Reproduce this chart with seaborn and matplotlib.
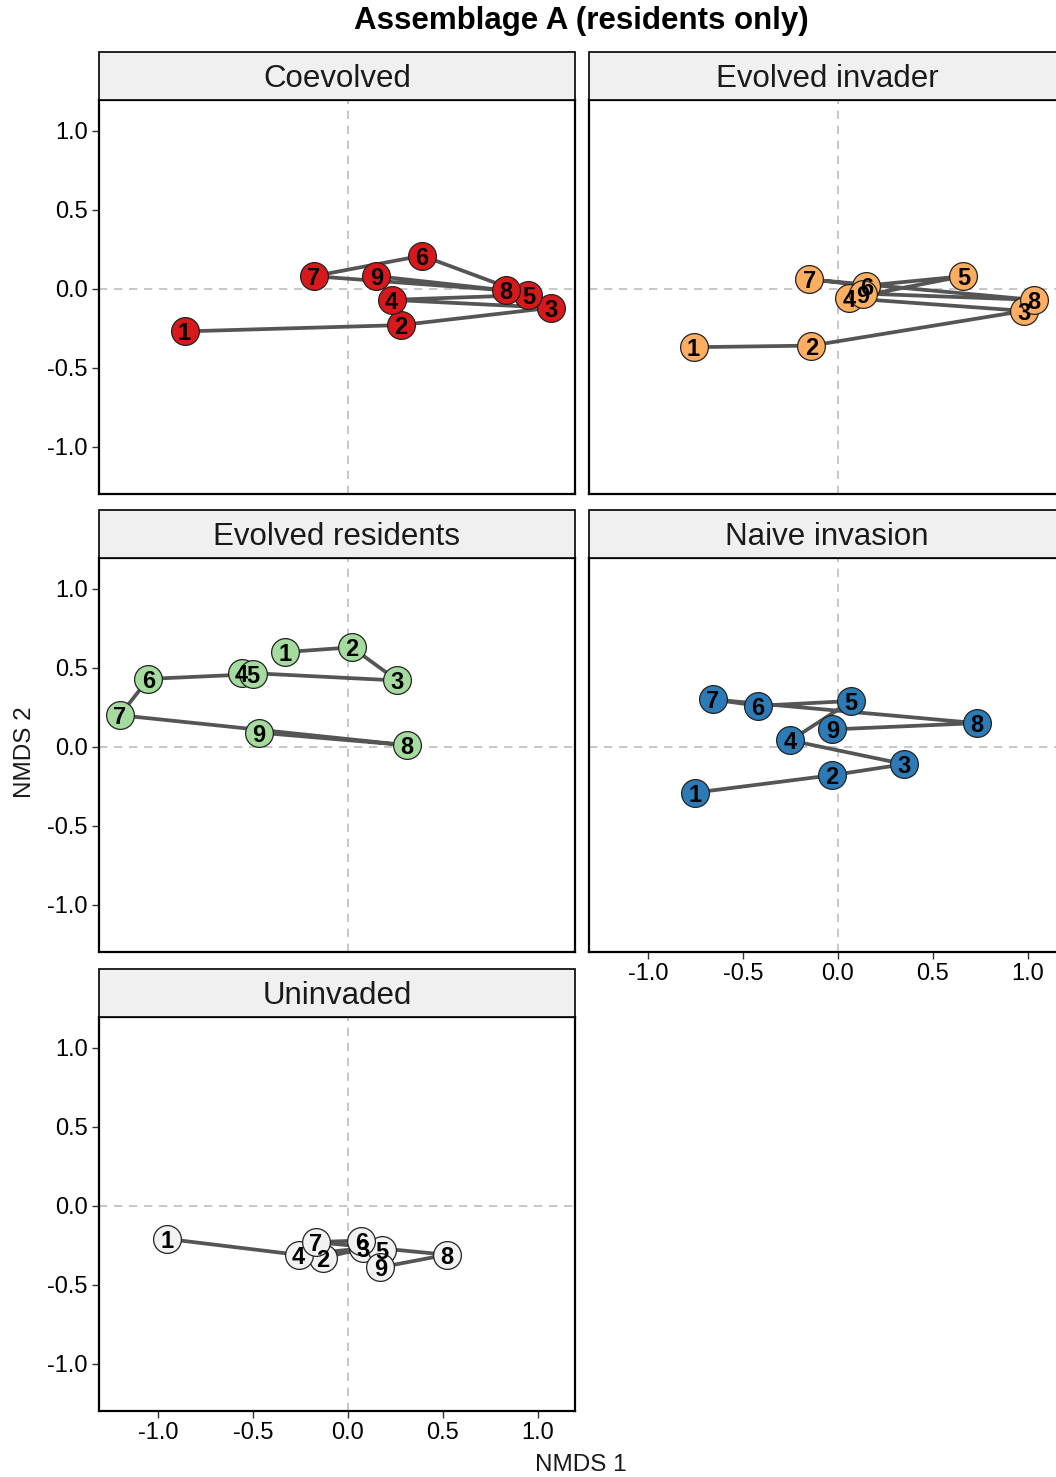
import numpy as np
import pandas as pd
import matplotlib
matplotlib.use("Agg")
import matplotlib.pyplot as plt
from matplotlib.patches import Rectangle
import seaborn as sns

# Sampling order of the communities (labels drawn inside each point)
samples = [1, 2, 3, 4, 5, 6, 7, 8, 9]

panels = ["Coevolved", "Evolved invader", "Evolved residents",
          "Naive invasion", "Uninvaded"]

# NMDS scores per treatment, in sampling order
coevolved_x = [-0.86, 0.28, 1.07, 0.23, 0.95, 0.39, -0.18, 0.83, 0.15]
coevolved_y = [-0.27, -0.23, -0.12, -0.07, -0.04, 0.21, 0.08, -0.01, 0.08]

invader_x = [-0.76, -0.14, 0.98, 0.06, 0.66, 0.15, -0.15, 1.03, 0.13]
invader_y = [-0.37, -0.36, -0.14, -0.06, 0.08, 0.02, 0.06, -0.07, -0.03]

residents_x = [-0.33, 0.02, 0.26, -0.56, -0.50, -1.05, -1.20, 0.31, -0.47]
residents_y = [0.60, 0.63, 0.42, 0.47, 0.46, 0.43, 0.20, 0.01, 0.09]

naive_x = [-0.75, -0.03, 0.35, -0.25, 0.07, -0.42, -0.66, 0.73, -0.03]
naive_y = [-0.29, -0.18, -0.11, 0.04, 0.29, 0.26, 0.30, 0.15, 0.11]

uninvaded_x = [-0.95, -0.13, 0.08, -0.26, 0.18, 0.07, -0.17, 0.52, 0.17]
uninvaded_y = [-0.21, -0.33, -0.27, -0.31, -0.28, -0.22, -0.23, -0.31, -0.39]

panel_colors = ["#D7191C", "#FDAE61", "#A6DBA0", "#2C7BB6", "#F2F2F2"]

xs = [coevolved_x, invader_x, residents_x, naive_x, uninvaded_x]
ys = [coevolved_y, invader_y, residents_y, naive_y, uninvaded_y]

df = pd.concat([
    pd.DataFrame({"treatment": p, "sample": samples, "NMDS1": x, "NMDS2": y})
    for p, x, y in zip(panels, xs, ys)
], ignore_index=True)

sns.set_theme(style="white")
plt.rcParams["font.family"] = ["Liberation Sans", "DejaVu Sans"]
plt.rcParams["axes.unicode_minus"] = False

g = sns.FacetGrid(df, col="treatment", col_order=panels, col_wrap=2,
                  sharex=True, sharey=True, height=4, aspect=1.2)
fig = g.figure
W, H = 1056, 1477
fig.set_size_inches(W / 100, H / 100)
fig.set_dpi(100)

line_col = "#555555"
for (name, ax), col in zip(g.axes_dict.items(), panel_colors):
    sub = df[df["treatment"] == name]
    ax.axhline(0, color="#BDBDBD", lw=1.2, dashes=(5, 4), zorder=0)
    ax.axvline(0, color="#BDBDBD", lw=1.2, dashes=(5, 4), zorder=0)
    sns.lineplot(data=sub, x="NMDS1", y="NMDS2", sort=False, estimator=None,
                 color=line_col, lw=2.7, ax=ax, zorder=2)
    sns.scatterplot(data=sub, x="NMDS1", y="NMDS2", color=col, s=400,
                    edgecolor="#222222", linewidth=0.9, ax=ax, zorder=3,
                    legend=False)
    for _, r in sub.iterrows():
        ax.text(r["NMDS1"], r["NMDS2"], str(int(r["sample"])), ha="center",
                va="center_baseline", fontsize=17, fontweight="bold",
                color="black", zorder=4)

# Panel geometry (pixels): left edge, top of panel body
left_cols = [99, 589]
tops = [100, 558, 1017]
pw, ph = 476, 394
strip_h = 48

for i, name in enumerate(panels):
    ax = g.axes_dict[name]
    r, c = divmod(i, 2)
    ax.set_position([left_cols[c] / W, 1 - (tops[r] + ph) / H, pw / W, ph / H])
    ax.set_xlim(-1.31, 1.195)
    ax.set_ylim(-1.30, 1.196)
    ax.set_xticks([-1.0, -0.5, 0.0, 0.5, 1.0])
    ax.set_yticks([-1.0, -0.5, 0.0, 0.5, 1.0])
    ax.set_xlabel("")
    ax.set_ylabel("")
    ax.set_title("")
    for s in ax.spines.values():
        s.set_visible(True)
        s.set_color("black")
        s.set_linewidth(1.6)
    bottom_of_col = (name in ("Naive invasion", "Uninvaded"))
    left_col = (c == 0)
    ax.tick_params(axis="x", which="both", bottom=bottom_of_col,
                   labelbottom=bottom_of_col, length=5, width=1,
                   color="#333333", labelsize=17, labelcolor="black", pad=3)
    ax.tick_params(axis="y", which="both", left=left_col,
                   labelleft=left_col, length=5, width=1,
                   color="#333333", labelsize=17, labelcolor="black", pad=3)
    ax.xaxis.set_major_formatter(matplotlib.ticker.FormatStrFormatter("%.1f"))
    ax.yaxis.set_major_formatter(matplotlib.ticker.FormatStrFormatter("%.1f"))
    # facet strip
    sh = strip_h / ph
    ax.add_patch(Rectangle((0, 1.0), 1, sh, transform=ax.transAxes,
                           facecolor="#F0F0F0", edgecolor="black", lw=1.2,
                           clip_on=False, zorder=5))
    ax.text(0.5, 1 + sh / 2 - 3 / ph, name, transform=ax.transAxes,
            ha="center", va="center", fontsize=22.5, color="#1A1A1A",
            zorder=6)

fig.text(581 / W, 1 - 21 / H, "Assemblage A (residents only)", ha="center",
         va="center", fontsize=22.5, fontweight="bold", color="black")
fig.text(581 / W, 1 - 1465 / H, "NMDS 1", ha="center", va="center",
         fontsize=17.5, color="#1A1A1A")
fig.text(25 / W, 1 - 752 / H, "NMDS 2", ha="center", va="center",
         rotation=90, fontsize=17.5, color="#1A1A1A")

fig.savefig("out.png", dpi=100, facecolor="white")
